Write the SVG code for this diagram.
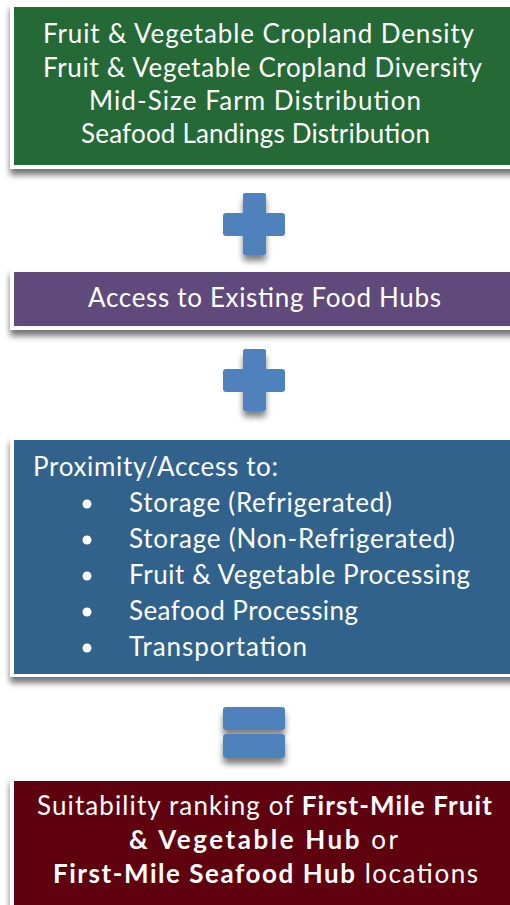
<svg xmlns="http://www.w3.org/2000/svg" width="510" height="905" viewBox="0 0 510 905">
  <style>
    .frame { fill: #ffffff; filter: url(#boxShadow); }
    .txt { font-family: Lato, "Open Sans", "Liberation Sans", sans-serif; font-size: 26px; fill: #ffffff; }
    .b { font-weight: bold; }
    .op { fill: #4f81bd; filter: url(#opShadow); }
  </style>
  <defs>
    <filter id="boxShadow" x="-10%" y="-20%" width="120%" height="160%">
      <feGaussianBlur in="SourceAlpha" stdDeviation="3"/>
      <feOffset dx="0" dy="6" result="off"/>
      <feComponentTransfer><feFuncA type="linear" slope="0.55"/></feComponentTransfer>
      <feMerge><feMergeNode/><feMergeNode in="SourceGraphic"/></feMerge>
    </filter>
    <filter id="opShadow" x="-30%" y="-30%" width="160%" height="180%">
      <feGaussianBlur in="SourceAlpha" stdDeviation="3"/>
      <feOffset dx="0" dy="6" result="off"/>
      <feComponentTransfer><feFuncA type="linear" slope="0.5"/></feComponentTransfer>
      <feMerge><feMergeNode/><feMergeNode in="SourceGraphic"/></feMerge>
    </filter>
  </defs>

  <rect width="510" height="905" fill="#ffffff"/>

  <!-- Input layers -->
  <g id="inputs">
    <rect class="frame" x="10" y="3" width="510" height="166"/>
    <rect x="14" y="7" width="506" height="158" fill="#246936"/>
    <text class="txt" x="43" y="43" textLength="431">Fruit &amp; Vegetable Cropland Density</text>
    <text class="txt" x="43" y="77" textLength="439">Fruit &amp; Vegetable Cropland Diversity</text>
    <text class="txt" x="89" y="110" textLength="332">Mid-Size Farm Distribution</text>
    <text class="txt" x="81" y="143" textLength="349">Seafood Landings Distribution</text>
  </g>

  <!-- Connectors: plus / plus / equals -->
  <g id="operators">
    <g id="plus-1">
      <rect class="op" x="243" y="193" width="23" height="62" rx="3"/>
      <rect x="223" y="213" width="62" height="23" rx="3" fill="#4f81bd"/>
      <rect x="243" y="193" width="23" height="62" rx="3" fill="#4f81bd"/>
    </g>
    <g id="plus-2">
      <rect class="op" x="243" y="349" width="23" height="62" rx="3"/>
      <rect x="223" y="369" width="62" height="23" rx="3" fill="#4f81bd"/>
      <rect x="243" y="349" width="23" height="62" rx="3" fill="#4f81bd"/>
    </g>
    <g id="equals">
      <rect class="op" x="223" y="707" width="62" height="23" rx="3"/>
      <rect class="op" x="223" y="734" width="62" height="24" rx="3"/>
    </g>
  </g>

  <!-- Existing hubs -->
  <g id="food-hubs">
    <rect class="frame" x="10" y="268" width="510" height="62"/>
    <rect x="14" y="272" width="506" height="54" fill="#604a7b"/>
    <text class="txt" x="88" y="307" textLength="353">Access to Existing Food Hubs</text>
  </g>

  <!-- Infrastructure proximity -->
  <g id="proximity">
    <rect class="frame" x="10" y="436" width="510" height="241"/>
    <rect x="14" y="440" width="506" height="234" fill="#31628b"/>
    <text class="txt" x="33" y="476" textLength="245">Proximity/Access to:</text>
    <g fill="#ffffff">
      <circle cx="87" cy="504" r="4.5"/>
      <circle cx="87" cy="540" r="4.5"/>
      <circle cx="87" cy="576" r="4.5"/>
      <circle cx="87" cy="612" r="4.5"/>
      <circle cx="87" cy="648" r="4.5"/>
    </g>
    <text class="txt" x="129" y="512" textLength="263">Storage (Refrigerated)</text>
    <text class="txt" x="129" y="548" textLength="326">Storage (Non-Refrigerated)</text>
    <text class="txt" x="129" y="584" textLength="341">Fruit &amp; Vegetable Processing</text>
    <text class="txt" x="129" y="620" textLength="229">Seafood Processing</text>
    <text class="txt" x="129" y="656" textLength="178">Transportation</text>
  </g>

  <!-- Result -->
  <g id="result">
    <rect class="frame" x="10" y="777" width="510" height="140"/>
    <rect x="14" y="781" width="506" height="130" fill="#5f000e"/>
    <text class="txt" x="37" y="815" textLength="455">Suitability ranking of <tspan class="b">First-Mile Fruit</tspan></text>
    <text class="txt" x="129" y="849" textLength="269"><tspan class="b">&amp; Vegetable Hub</tspan> or</text>
    <text class="txt" x="53" y="883" textLength="425"><tspan class="b">First-Mile Seafood Hub</tspan> locations</text>
  </g>
</svg>
